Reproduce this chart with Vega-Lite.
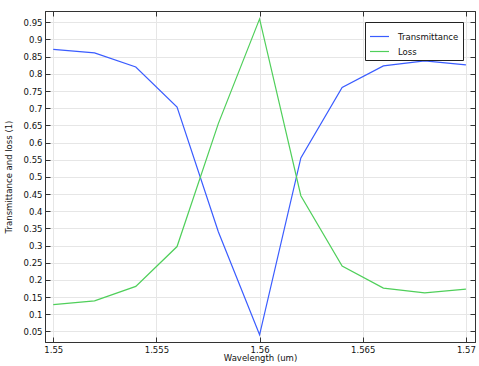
{
  "$schema": "https://vega.github.io/schema/vega-lite/v6.json",
  "width": 430,
  "height": 331,
  "autosize": {"type": "none"},
  "padding": {"left": 45, "top": 11, "right": 4, "bottom": 24},
  "background": "white",
  "config": {
    "font": "DejaVu Sans",
    "view": {"stroke": "#333", "strokeWidth": 1},
    "axis": {
      "labelFont": "DejaVu Sans",
      "titleFont": "DejaVu Sans",
      "labelFontSize": 8.5,
      "titleFontSize": 8.5,
      "labelColor": "#111",
      "titleColor": "#111",
      "titleFontWeight": "normal",
      "gridColor": "#e6e6e6",
      "domainColor": "#333",
      "tickColor": "#333",
      "tickSize": -5
    }
  },
  "data": {
    "values": [
      {"w": 1.550, "v": 0.871, "s": "Transmittance"},
      {"w": 1.552, "v": 0.861, "s": "Transmittance"},
      {"w": 1.554, "v": 0.820, "s": "Transmittance"},
      {"w": 1.556, "v": 0.703, "s": "Transmittance"},
      {"w": 1.558, "v": 0.340, "s": "Transmittance"},
      {"w": 1.560, "v": 0.040, "s": "Transmittance"},
      {"w": 1.562, "v": 0.555, "s": "Transmittance"},
      {"w": 1.564, "v": 0.760, "s": "Transmittance"},
      {"w": 1.566, "v": 0.823, "s": "Transmittance"},
      {"w": 1.568, "v": 0.838, "s": "Transmittance"},
      {"w": 1.570, "v": 0.826, "s": "Transmittance"},
      {"w": 1.550, "v": 0.128, "s": "Loss"},
      {"w": 1.552, "v": 0.139, "s": "Loss"},
      {"w": 1.554, "v": 0.181, "s": "Loss"},
      {"w": 1.556, "v": 0.297, "s": "Loss"},
      {"w": 1.558, "v": 0.655, "s": "Loss"},
      {"w": 1.560, "v": 0.960, "s": "Loss"},
      {"w": 1.562, "v": 0.445, "s": "Loss"},
      {"w": 1.564, "v": 0.240, "s": "Loss"},
      {"w": 1.566, "v": 0.176, "s": "Loss"},
      {"w": 1.568, "v": 0.162, "s": "Loss"},
      {"w": 1.570, "v": 0.173, "s": "Loss"}
    ]
  },
  "layer": [
    {
      "mark": {"type": "line", "strokeWidth": 1.2},
      "encoding": {
        "x": {
          "field": "w", "type": "quantitative",
          "scale": {"domain": [1.5496, 1.57044], "nice": false, "zero": false},
          "axis": {"orient": "bottom", "title": "Wavelength (um)", "values": [1.55, 1.555, 1.56, 1.565, 1.57], "format": "~g", "labelPadding": 8, "titlePadding": 0}
        },
        "y": {
          "field": "v", "type": "quantitative",
          "scale": {"domain": [0.019, 0.983], "nice": false, "zero": false},
          "axis": {"orient": "left", "title": "Transmittance and loss (1)", "values": [0.05,0.1,0.15,0.2,0.25,0.3,0.35,0.4,0.45,0.5,0.55,0.6,0.65,0.7,0.75,0.8,0.85,0.9,0.95], "format": "~g", "labelPadding": 8, "titlePadding": 10}
        },
        "color": {
          "field": "s", "type": "nominal",
          "scale": {"domain": ["Transmittance", "Loss"], "range": ["#3a5cff", "#4fcf5a"]},
          "legend": {
            "title": null,
            "orient": "none",
            "legendX": 320,
            "legendY": 11,
            "direction": "vertical",
            "fillColor": "white",
            "strokeColor": "#222",
            "padding": 4,
            "symbolType": "stroke",
            "symbolSize": 361,
            "symbolStrokeWidth": 1.2,
            "labelFont": "DejaVu Sans",
            "labelFontSize": 8.5,
            "labelColor": "#111",
            "labelOffset": 8,
            "rowPadding": -5
          }
        }
      }
    },
    {
      "mark": {"type": "point", "opacity": 0},
      "encoding": {
        "x": {"field": "w", "type": "quantitative", "axis": {"orient": "top", "title": null, "labels": false, "grid": false, "values": [1.55, 1.555, 1.56, 1.565, 1.57]}},
        "y": {"field": "v", "type": "quantitative", "axis": {"orient": "right", "title": null, "labels": false, "grid": false, "values": [0.05,0.1,0.15,0.2,0.25,0.3,0.35,0.4,0.45,0.5,0.55,0.6,0.65,0.7,0.75,0.8,0.85,0.9,0.95]}}
      }
    }
  ],
  "resolve": {"axis": {"x": "independent", "y": "independent"}}
}
